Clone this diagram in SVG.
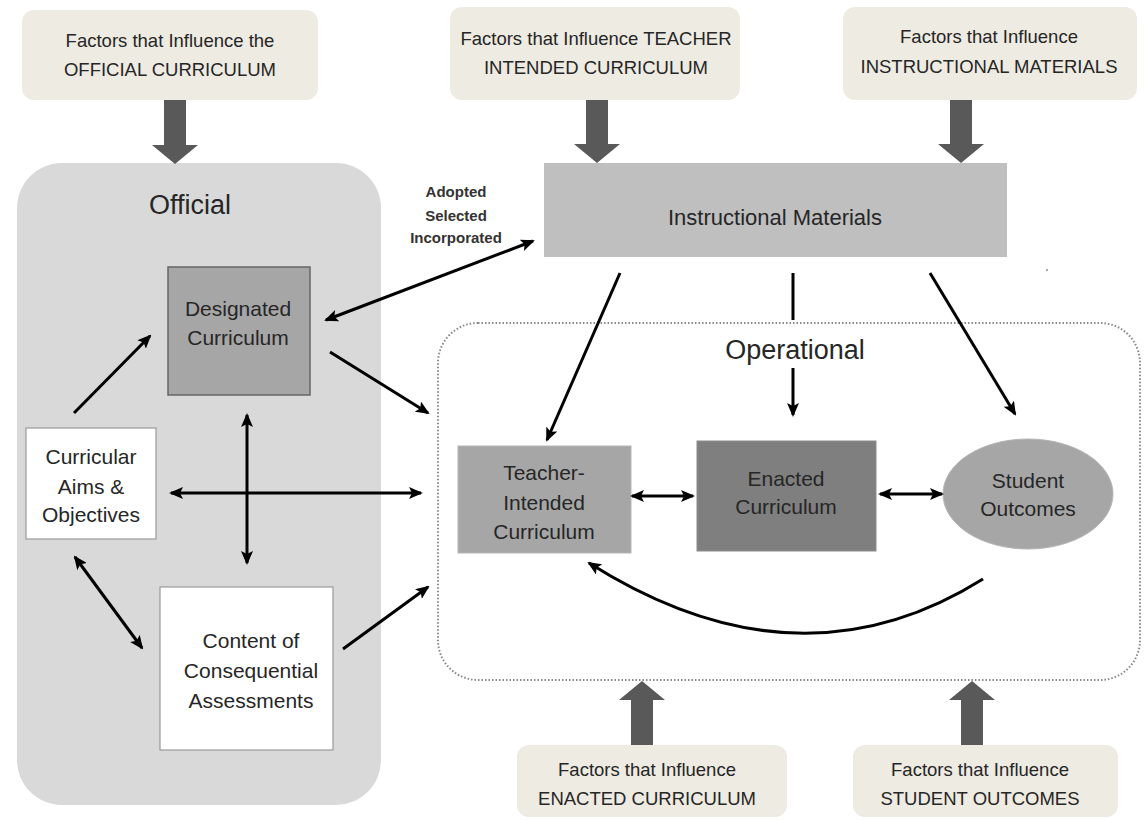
<svg xmlns="http://www.w3.org/2000/svg" width="1148" height="820" viewBox="0 0 1148 820">
<defs>
<marker id="ah" viewBox="0 0 14 12" refX="12" refY="6" markerWidth="14" markerHeight="12" markerUnits="userSpaceOnUse" orient="auto-start-reverse">
<path d="M0,0 L14,6 L0,12 L3,6 Z" fill="#000"/>
</marker>
</defs>
<style>
text{font-family:"Liberation Sans",Arial,sans-serif;fill:#262626;text-anchor:middle}
.fac rect{fill:#eeebe2}
.fac text{font-size:18.5px}
.node text{font-size:21px}
.lbl{font-size:15px;font-weight:bold;fill:#333}
.con line,.con path{stroke:#000;stroke-width:3;fill:none}
.con path.big{fill:#595959;stroke:none}
.arr{marker-end:url(#ah)}
.dbl{marker-start:url(#ah);marker-end:url(#ah)}
</style>
<rect width="1148" height="820" fill="#fff"/>

<g id="official-group">
<rect x="17" y="163" width="364" height="642" rx="45" fill="#d9d9d9"/>
<text x="190" y="214" style="font-size:27px">Official</text>
</g>

<g id="operational-group">
<rect x="438" y="323" width="702" height="357" rx="40" fill="none" stroke="#888" stroke-width="2" stroke-dasharray="1.5,2"/>
<text x="795" y="359" style="font-size:27px">Operational</text>
</g>

<g id="factors-official" class="fac">
<rect x="22" y="10" width="296" height="90" rx="12"/>
<text x="170" y="47">Factors that Influence the</text>
<text x="170" y="76">OFFICIAL CURRICULUM</text>
</g>
<g id="factors-teacher" class="fac">
<rect x="450" y="7" width="290" height="93" rx="12"/>
<text x="596" y="45">Factors that Influence TEACHER</text>
<text x="596" y="74">INTENDED CURRICULUM</text>
</g>
<g id="factors-materials" class="fac">
<rect x="843" y="7" width="294" height="93" rx="12"/>
<text x="989" y="43">Factors that Influence</text>
<text x="989" y="73">INSTRUCTIONAL MATERIALS</text>
</g>
<g id="factors-enacted" class="fac">
<rect x="517" y="745" width="270" height="72" rx="12"/>
<text x="647" y="776">Factors that Influence</text>
<text x="647" y="805">ENACTED CURRICULUM</text>
</g>
<g id="factors-outcomes" class="fac">
<rect x="853" y="745" width="265" height="72" rx="12"/>
<text x="980" y="776">Factors that Influence</text>
<text x="980" y="805">STUDENT OUTCOMES</text>
</g>

<g id="instructional-materials" class="node">
<rect x="544" y="163" width="463" height="94" fill="#bfbfbf"/>
<text x="775" y="225" style="font-size:22px">Instructional Materials</text>
</g>

<g id="designated" class="node">
<rect x="168" y="267" width="142" height="128" fill="#a6a6a6" stroke="#666" stroke-width="1.5"/>
<text x="238" y="316">Designated</text>
<text x="238" y="345">Curriculum</text>
</g>

<g id="aims" class="node">
<rect x="26" y="428" width="130" height="111" fill="#fff" stroke="#999" stroke-width="1.2"/>
<text x="91" y="464">Curricular</text>
<text x="91" y="494">Aims &amp;</text>
<text x="91" y="522">Objectives</text>
</g>

<g id="assessments" class="node">
<rect x="160" y="587" width="173" height="163" fill="#fff" stroke="#999" stroke-width="1.2"/>
<text x="251" y="648">Content of</text>
<text x="251" y="678">Consequential</text>
<text x="251" y="708">Assessments</text>
</g>

<g id="teacher-intended" class="node">
<rect x="458" y="446" width="173" height="107" fill="#a6a6a6" stroke="#b5b5b5" stroke-width="1"/>
<text x="544" y="480">Teacher-</text>
<text x="544" y="510">Intended</text>
<text x="544" y="539">Curriculum</text>
</g>

<g id="enacted" class="node">
<rect x="697" y="441" width="179" height="110" fill="#7f7f7f" stroke="#8c8c8c" stroke-width="1"/>
<text x="786" y="486">Enacted</text>
<text x="786" y="514">Curriculum</text>
</g>

<g id="student-outcomes" class="node">
<ellipse cx="1028" cy="494" rx="85" ry="55" fill="#a6a6a6" stroke="#b5b5b5" stroke-width="1"/>
<text x="1028" y="488">Student</text>
<text x="1028" y="516">Outcomes</text>
</g>

<g id="connectors" class="con">
<path class="big" d="M164,100 h22 v45 h12 l-23,19 l-23,-19 h12 z"/>
<path class="big" d="M586,100 h22 v44 h12 l-23,19 l-23,-19 h12 z"/>
<path class="big" d="M950,100 h22 v44 h12 l-23,19 l-23,-19 h12 z"/>
<path class="big" d="M631,745 h22 v-45 h12 l-23,-19 l-23,19 h12 z"/>
<path class="big" d="M961,745 h22 v-45 h12 l-23,-19 l-23,19 h12 z"/>

<line class="dbl" x1="326" y1="320" x2="533" y2="241"/>
<line class="arr" x1="74" y1="413" x2="150" y2="336"/>
<line class="arr" x1="330" y1="352" x2="428" y2="413"/>
<line class="dbl" x1="247" y1="415" x2="247" y2="563"/>
<line class="dbl" x1="171" y1="493" x2="421" y2="493"/>
<line class="dbl" x1="75" y1="557" x2="142" y2="648"/>
<line class="arr" x1="343" y1="649" x2="428" y2="587"/>

<line class="arr" x1="620" y1="273" x2="547" y2="440"/>
<line x1="793" y1="273" x2="793" y2="320"/>
<line class="arr" x1="793" y1="368" x2="793" y2="415"/>
<line class="arr" x1="930" y1="273" x2="1015" y2="414"/>

<line class="dbl" x1="632" y1="496" x2="693" y2="496"/>
<line class="dbl" x1="880" y1="494" x2="942" y2="494"/>
<path class="arr" d="M983,579 Q798,695 589,563"/>
</g>

<g id="label-adopted">
<text class="lbl" x="456" y="197">Adopted</text>
<text class="lbl" x="456" y="221">Selected</text>
<text class="lbl" x="456" y="243">Incorporated</text>
</g>
<circle cx="1047" cy="270" r="1" fill="#888"/>
</svg>
